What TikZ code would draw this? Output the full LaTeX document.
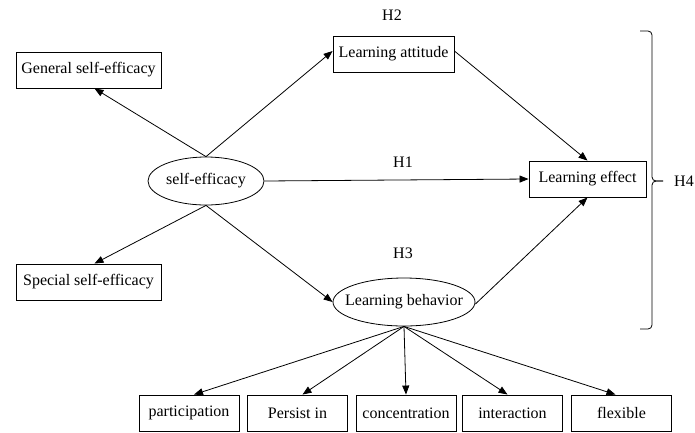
\documentclass[tikz,border=0pt]{standalone}
\usepackage{fontspec}
\setmainfont{Liberation Serif}
\usepackage{tikz}
\usetikzlibrary{arrows.meta, shapes.geometric}

\begin{document}
\begin{tikzpicture}[x=1pt, y=-1pt, font=\fontsize{16}{19}\selectfont,
  box/.style={draw, line width=0.9pt, minimum height=36pt, inner xsep=5pt},
  smallbox/.style={box, minimum width=100pt},
  oval/.style={draw, ellipse, line width=0.8pt, inner sep=0pt, minimum height=48pt},
  arr/.style={-{Triangle[length=9pt, width=7pt]}, line width=0.8pt}]
  \useasboundingbox (0,0) rectangle (695,432);
  % Centre and its two facets
  \node[oval, minimum width=116pt] (se) at (206,181) {self-efficacy};
  \node[box, minimum width=145pt] (gen) at (88.5,70) {General self-efficacy};
  \node[box, minimum width=145pt] (spe) at (88.5,282) {Special self-efficacy};
  % Mediators and outcome
  \node[box, minimum width=121pt] (att) at (393.5,54) {Learning attitude};
  \node[oval, minimum width=142pt, inner xsep=-9pt] (beh) at (404,302) {Learning behavior};
  \node[box, minimum width=117pt] (eff) at (587.5,179) {Learning effect};
  % Hypothesis labels
  \node (h2) at (392,15) {H2};
  \node (h1) at (403,162) {H1};
  \node (h3) at (403,253) {H3};
  \node (h4) at (684,181) {H4};
  % Arrows
  \draw[arr] (se.north) -- ([xshift=6pt]gen.south);
  \draw[arr] (se.south) -- ([xshift=6pt]spe.north);
  \draw[arr] (se.north) -- ([yshift=3pt]att.west);
  \draw[arr] (se.east) -- (eff.west);
  \draw[arr] (se.south) -- (beh.west);
  \draw[arr] ([yshift=3pt]att.east) -- (eff.north);
  \draw[arr] ([yshift=-2pt]beh.east) -- (eff.south);
  % Behaviour indicators
  \foreach \name/\xpos/\txt/\dx in {par/189/participation/5, per/297.5/Persist in/5,
      con/406/concentration/0, int/512.5/interaction/-5, fle/621.5/flexible/-6} {
    \node[smallbox] (\name) at (\xpos,413) {\txt};
    \draw[arr] (beh.south) -- ([xshift=\dx pt]\name.north);
  }
  % Bracket for H4
  \draw[line width=0.8pt, rounded corners=4pt] (640,31) -- (652,31) -- (652,181) -- (663,181);
  \draw[line width=0.8pt, rounded corners=4pt] (640,329) -- (652,329) -- (652,181) -- (663,181);
\end{tikzpicture}
\end{document}
